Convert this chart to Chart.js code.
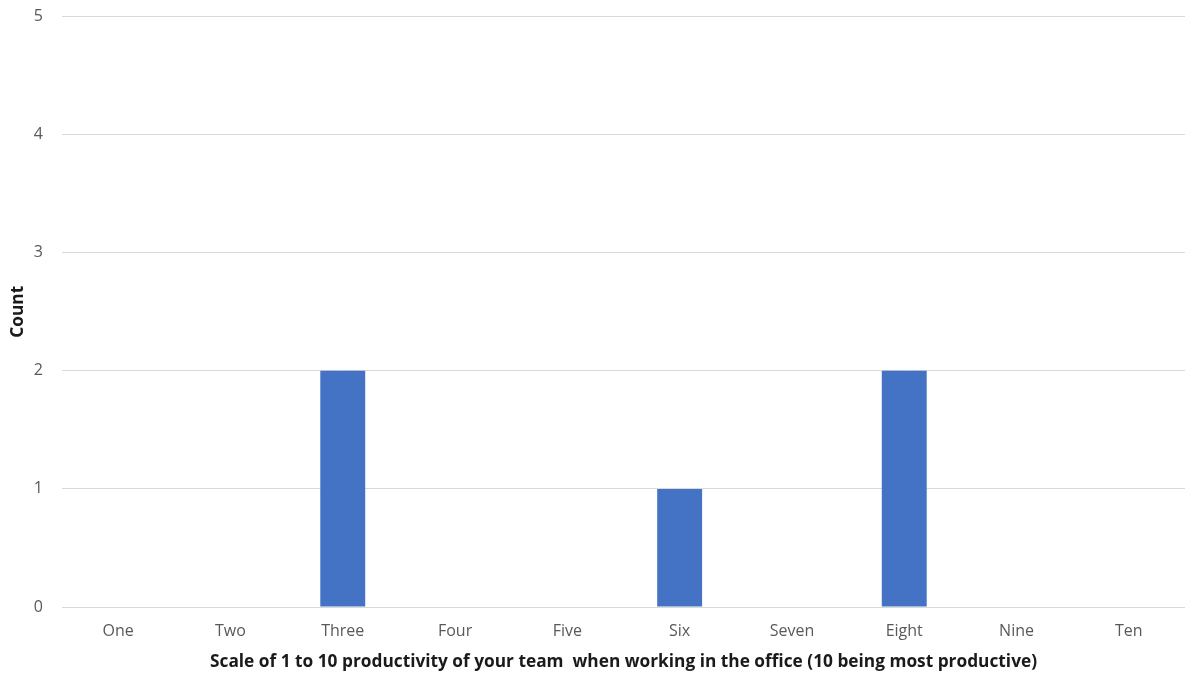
<!DOCTYPE html>
<html>
<head>
<meta charset="utf-8">
<script src="https://cdn.jsdelivr.net/npm/chart.js@4"></script>
<style>
  html, body { margin: 0; padding: 0; background: #fff; overflow: hidden; }
  #wrap { position: relative; width: 1188px; height: 676px; overflow: hidden; }
  /* the plot sits flush with the top edge, so the top tick label is clipped */
  #chart { position: absolute; left: 0; top: -12px; }
</style>
</head>
<body>
<div id="wrap"><canvas id="chart" width="1188" height="688"></canvas></div>
<script>
// survey answers: productivity in the office, 1 to 10
const categories = ['One', 'Two', 'Three', 'Four', 'Five', 'Six', 'Seven', 'Eight', 'Nine', 'Ten']
const counts = [0, 0, 2, 0, 0, 1, 0, 2, 0, 0]
const yTicks = [0, 1, 2, 3, 4, 5]

const xTitle = 'Scale of 1 to 10 productivity of your team  when working in the office (10 being most productive)'
const yTitle = 'Count'

const gridColor = '#d9d9d9'
const tickColor = '#595959'
const fontFamily = '"Open Sans", "Noto Sans", sans-serif'

const ctx = document.getElementById('chart').getContext('2d')

new Chart(ctx, {
  type: 'bar',
  data: {
    labels: categories,
    datasets: [
      {
        label: yTitle,
        data: counts,
        backgroundColor: '#4472c4',
        borderWidth: 0,
        categoryPercentage: 1,
        barPercentage: 0.4,
      },
    ],
  },
  options: {
    responsive: false,
    animation: false,
    layout: {
      padding: { top: 4, right: 3, bottom: 0, left: 0 },
    },
    plugins: {
      legend: { display: false },
      tooltip: { enabled: false },
    },
    scales: {
      x: {
        grid: { display: false, drawTicks: false },
        border: { display: false },
        ticks: {
          color: tickColor,
          font: { family: fontFamily, size: 16 },
          padding: 15,
          maxRotation: 0,
        },
        title: {
          display: true,
          text: xTitle,
          color: '#1a1a1a',
          font: { family: fontFamily, size: 17.3, weight: 'bold' },
          padding: { top: 0, bottom: 4 },
        },
        afterFit: (scale) => {
          scale.height = 69
        },
      },
      y: {
        min: 0,
        max: 5,
        afterBuildTicks: (scale) => {
          scale.ticks = yTicks.map((v) => ({ value: v }))
        },
        grid: { color: gridColor, lineWidth: 1, drawTicks: false },
        border: { display: false },
        ticks: {
          color: tickColor,
          font: { family: fontFamily, size: 16 },
          padding: 19,
        },
        title: {
          display: true,
          text: yTitle,
          color: '#1a1a1a',
          font: { family: fontFamily, size: 17.3, weight: 'bold' },
          padding: { top: 8, bottom: 0 },
        },
        afterFit: (scale) => {
          scale.width = 62
        },
      },
    },
  },
})
</script>
</body>
</html>
